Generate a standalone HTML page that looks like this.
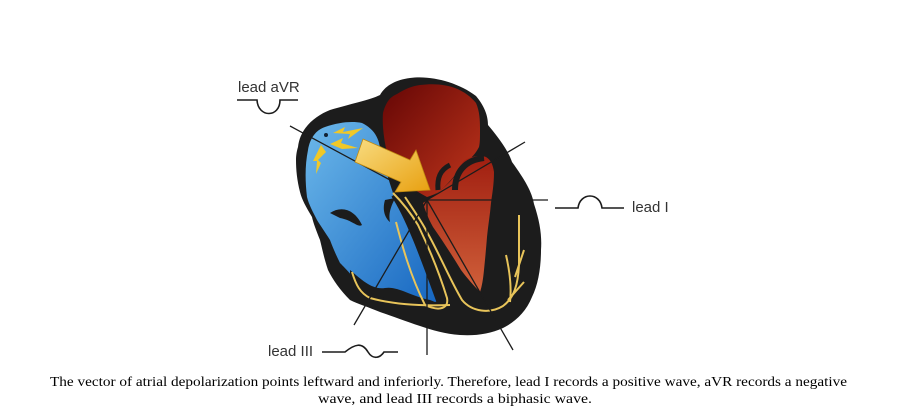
<!DOCTYPE html>
<html><head><meta charset="utf-8"><style>
html,body{margin:0;padding:0;background:#fff;width:903px;height:415px;overflow:hidden}
</style></head><body>
<svg width="903" height="415" viewBox="0 0 903 415" xmlns="http://www.w3.org/2000/svg">
<defs>
<linearGradient id="blue" x1="0" y1="0" x2="1" y2="1">
<stop offset="0" stop-color="#6cb8ea"/><stop offset="1" stop-color="#1565c0"/></linearGradient>
<linearGradient id="red1" x1="0" y1="0" x2="1" y2="1">
<stop offset="0" stop-color="#650605"/><stop offset="1" stop-color="#c0361c"/></linearGradient>
<linearGradient id="red2" x1="0" y1="0" x2="0" y2="1">
<stop offset="0" stop-color="#a01e10"/><stop offset="1" stop-color="#d0603a"/></linearGradient>
<linearGradient id="gold" x1="0" y1="0" x2="1" y2="1">
<stop offset="0" stop-color="#f8dc80"/><stop offset="1" stop-color="#e8a010"/></linearGradient>
</defs>
<!-- outer black -->
<path d="M298,147 C300,128 315,116 330,110 C350,104 370,100 380,95 C385,86 395,80 410,78 C430,75 458,82 476,96 C486,108 488,118 488,125 C498,137 508,150 512,162 C525,180 532,192 534,204 C540,222 542,236 541,250 C541,268 538,285 532,297 C526,312 515,322 503,328 C490,334 475,336 460,335 C445,334 432,330 420,326 C405,321 392,316 380,312 C368,307 358,304 350,300 C340,290 333,280 328,270 C324,258 322,248 320,240 C316,230 313,222 312,217 C306,207 302,200 300,192 C297,180 296,170 296,160 C296,155 297,150 298,147 Z" fill="#1c1c1c"/>
<!-- blue -->
<path d="M308,150 C310,138 316,130 325,127 C340,122 352,121 362,123 C372,128 377,135 379,143 C383,160 388,178 393,193 C398,200 403,205 407,210 C412,220 416,228 420,237 C425,250 430,260 433,270 C437,282 440,292 442,300 C430,304 420,304 407,302 C395,298 384,294 373,290 C365,287 358,282 353,277 C347,270 343,266 340,263 C336,255 333,248 330,240 C325,232 320,225 317,220 C313,212 309,205 307,197 C305,180 305,165 308,150 Z" fill="url(#blue)"/>
<path d="M330,213 C342,205 355,210 362,225 C358,228 352,220 340,218 Z" fill="#1c1c1c"/>
<path d="M385,200 C382,210 385,218 390,222 C388,212 392,205 395,198Z" fill="#1c1c1c"/>
<path d="M350,270 C362,280 372,290 385,288 C398,286 410,296 430,300 L440,304 L405,304 C385,300 365,290 350,280Z" fill="#1c1c1c"/>
<!-- red atrium -->
<path d="M383,113 C386,102 390,97 397,94 C405,89 412,86 420,85 C435,83 447,85 455,88 C465,92 471,97 476,103 C480,112 480,122 480,130 C480,138 480,143 479,147 C476,153 472,157 469,160 C466,164 463,167 460,170 C452,178 445,188 437,193 C433,195 430,196 427,197 C418,192 408,186 400,180 C395,170 390,160 387,153 C384,140 382,125 383,113 Z" fill="url(#red1)"/>
<!-- red ventricle -->
<path d="M423,203 C435,195 448,186 458,172 C461,166 462,162 465,160 C473,156 480,155 486,157 C491,160 493,165 494,172 C494,185 492,195 491,203 C490,215 488,226 487,237 C486,250 485,260 484,270 C483,280 482,286 480,292 C474,286 467,278 461,270 C452,255 442,240 433,227 C428,218 425,210 423,203 Z" fill="url(#red2)"/>
<path d="M455,190 C455,172 465,160 484,158" stroke="#1c1c1c" stroke-width="6" fill="none"/>
<path d="M438,190 C437,178 440,170 450,165" stroke="#1c1c1c" stroke-width="5" fill="none"/>
<!-- septum band -->
<path d="M398,192 C412,212 428,255 446,305" stroke="#1c1c1c" stroke-width="16" fill="none"/>
<!-- purkinje -->
<g stroke="#e8c45a" stroke-width="2" fill="none">
<path d="M393,193 C405,205 412,215 418,225 C430,250 440,275 447,298 C449,308 440,312 425,305 C410,275 402,245 396,222"/>
<path d="M450,305 C425,306 395,305 370,298 C360,293 356,285 352,272"/>
<path d="M405,197 C415,212 422,222 427,232 C440,255 450,280 462,300 C472,312 490,314 503,306 C514,298 518,285 519,265 L519,215"/>
<path d="M510,302 C512,285 509,268 506,255 M508,300 L524,282 M515,277 L524,250"/>
</g>
<!-- radiating lines -->
<g stroke="#1c1c1c" stroke-width="1.3">
<line x1="427" y1="200" x2="290" y2="126"/>
<line x1="427" y1="200" x2="548" y2="200"/>
<line x1="427" y1="200" x2="525" y2="142"/>
<line x1="427" y1="200" x2="427" y2="355"/>
<line x1="427" y1="200" x2="354" y2="325"/>
<line x1="427" y1="200" x2="513" y2="350"/>
</g>
<!-- lightning -->
<g fill="#f0c828">
<path d="M333,133 L345,127 L343,132 L363,128 L348,139 L350,134 Z"/>
<path d="M330,144 L343,138 L341,143 L358,148 L342,149 Z"/>
<path d="M321,145 L326,152 L318,160 L321,163 L316,174 L317,161 L313,161 Z"/>
</g>
<circle cx="326" cy="135" r="2" fill="#123"/>
<!-- arrow -->
<path d="M363,139 L410,160 L416,150 L430,190 L395,192 L401,182 L355,162 Z" fill="url(#gold)" stroke="#c08a10" stroke-width="0.8"/>
<!-- leads -->
<g stroke="#1c1c1c" stroke-width="1.6" fill="none">
<path d="M237,100 L257,100 C258,118 280,118 280,100 L298,100"/>
<path d="M555,208 L578,208 C580,192 600,192 602,208 L624,208"/>
<path d="M322,352 L345,352 C355,344 362,342 368,352 C373,360 380,358 384,352 L398,352"/>
</g>
<g font-family="Liberation Sans, sans-serif" font-size="15" fill="#333">
<text x="238" y="92">lead aVR</text>
<text x="632" y="212">lead I</text>
<text x="268" y="356">lead III</text>
</g>
<g font-family="Liberation Serif, serif" font-size="14" fill="#000">
<text x="50" y="386" textLength="797" lengthAdjust="spacingAndGlyphs">The vector of atrial depolarization points leftward and inferiorly. Therefore, lead I records a positive wave, aVR records a negative</text>
<text x="318" y="403" textLength="274" lengthAdjust="spacingAndGlyphs">wave, and lead III records a biphasic wave.</text>
</g>
</svg>
</body></html>
